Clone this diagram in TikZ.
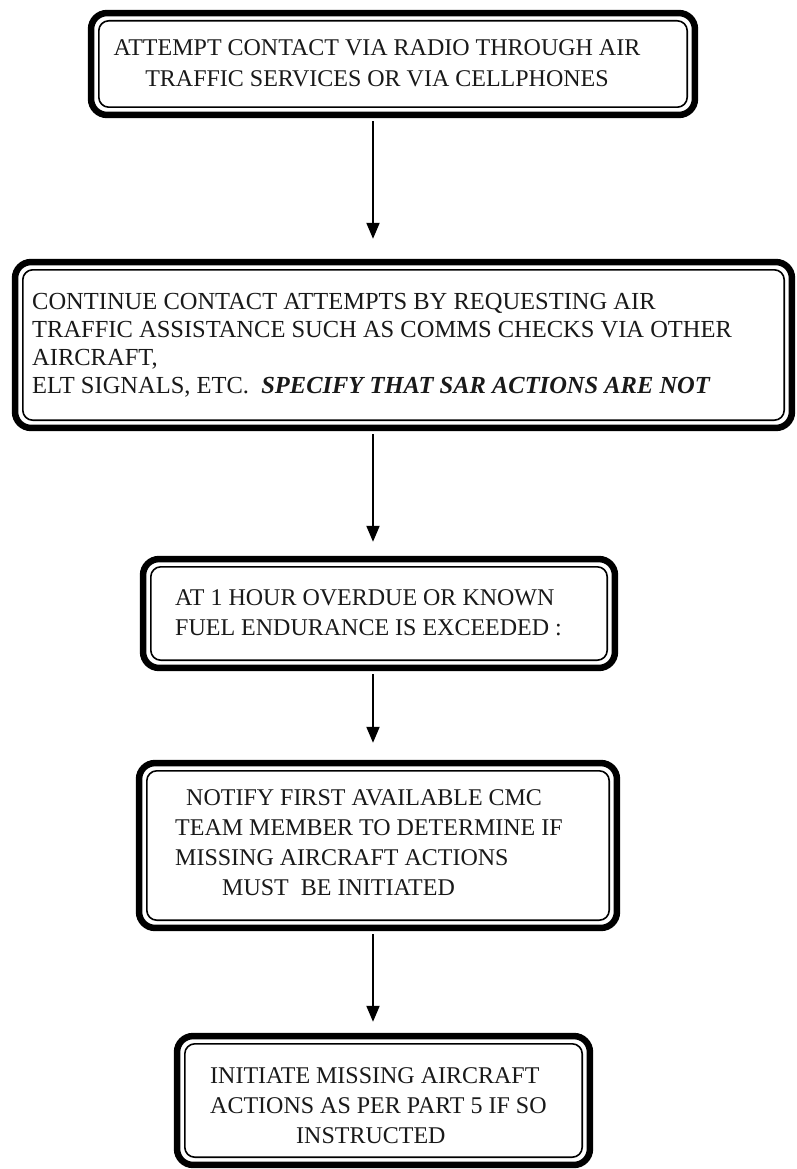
\documentclass[tikz,border=0pt]{standalone}
\usepackage{fontspec}
\setmainfont{Liberation Serif}
\usetikzlibrary{arrows.meta}
\begin{document}
\begin{tikzpicture}[x=1pt,y=-1pt,
  boxn/.style={inner sep=0pt, draw=none},
  outerb/.style={line width=6.5pt, rounded corners=16pt},
  innerb/.style={line width=1.6pt, rounded corners=10pt},
  txt/.style={inner sep=0pt, font=\fontsize{24}{30}\selectfont, text=black!90},
  arr/.style={line width=2pt, -{Triangle[width=13pt,length=16pt]}}]
\useasboundingbox[fill=white] (0,0) rectangle (797,1169);
% boxes
\node[boxn, minimum width=610pt, minimum height=108pt] (b1) at (393,64) {};
\node[boxn, minimum width=783pt, minimum height=172pt] (b2) at (403.5,345) {};
\node[boxn, minimum width=478pt, minimum height=115pt] (b3) at (379,613.5) {};
\node[boxn, minimum width=484pt, minimum height=171pt] (b4) at (378,845.5) {};
\node[boxn, minimum width=419pt, minimum height=135pt] (b5) at (383.5,1100.5) {};
\foreach \b in {b1,b2,b3,b4,b5}{
  \draw[outerb] ([shift={(3.25pt,-3.25pt)}]\b.north west) rectangle ([shift={(-3.25pt,3.25pt)}]\b.south east);
  \draw[innerb] ([shift={(11pt,-11pt)}]\b.north west) rectangle ([shift={(-11pt,11pt)}]\b.south east);
}
% texts
\node[txt, align=center, anchor=north, font=\fontsize{24}{31}\selectfont] (t1) at (377,39)
  {ATTEMPT CONTACT VIA RADIO THROUGH AIR\\TRAFFIC SERVICES OR VIA CELLPHONES};
\node[txt, align=left, anchor=north west, font=\fontsize{24.5}{28}\selectfont] (t2) at (32,293)
  {CONTINUE CONTACT ATTEMPTS BY REQUESTING AIR\\
   TRAFFIC ASSISTANCE SUCH AS COMMS CHECKS VIA OTHER\\
   AIRCRAFT,\\
   ELT SIGNALS, ETC.\ \ \textbf{\textit{SPECIFY THAT SAR ACTIONS ARE NOT}}};
\node[txt, align=left, anchor=north west] (t3) at (175,589)
  {AT 1 HOUR OVERDUE OR KNOWN\\FUEL ENDURANCE IS EXCEEDED :};
\node[txt, align=left, anchor=north west] (t4) at (175,789)
  {\hspace*{11pt}NOTIFY FIRST AVAILABLE CMC\\
   TEAM MEMBER TO DETERMINE IF\\
   MISSING AIRCRAFT ACTIONS\\
   \hspace*{47pt}MUST\ \ BE INITIATED};
\node[txt, align=left, anchor=north west] (t5) at (210,1067)
  {INITIATE MISSING AIRCRAFT\\
   ACTIONS AS PER PART 5 IF SO\\
   \hspace*{86pt}INSTRUCTED};
% arrows
\coordinate (ax) at (373,0);
\draw[arr, shorten <=3pt, shorten >=20pt] (b1.south -| ax) -- (b2.north -| ax);
\draw[arr, shorten <=3pt, shorten >=14pt] (b2.south -| ax) -- (b3.north -| ax);
\draw[arr, shorten <=3pt, shorten >=17pt] (b3.south -| ax) -- (b4.north -| ax);
\draw[arr, shorten <=3pt, shorten >=11pt] (b4.south -| ax) -- (b5.north -| ax);
\end{tikzpicture}
\end{document}
